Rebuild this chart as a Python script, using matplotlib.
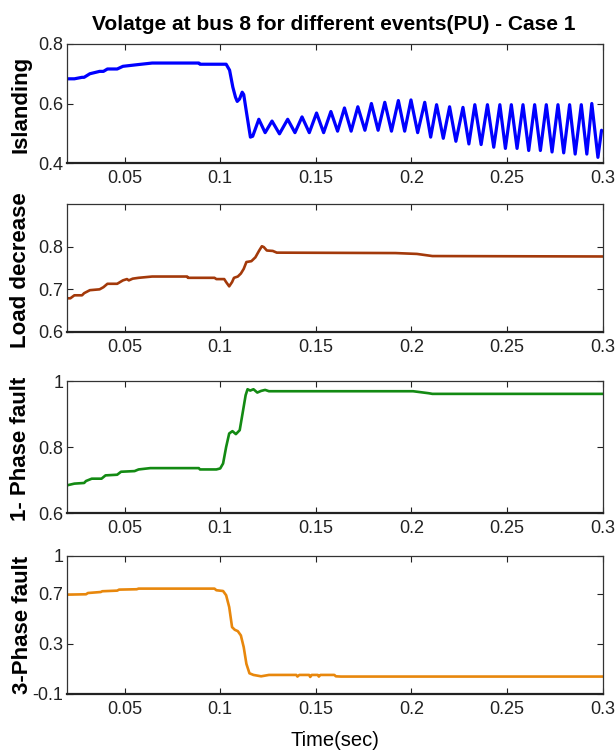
import matplotlib.pyplot as plt

plt.rcParams['font.family'] = ['Liberation Sans', 'DejaVu Sans']

# ---- data ----
# Islanding: stepwise rise, drop after the event, then growing oscillation
isl_t = [0.020, 0.0237, 0.0277, 0.0288, 0.0318, 0.0369, 0.0389, 0.0410, 0.0461, 0.0491,
         0.0573, 0.0644, 0.0888, 0.0894, 0.1031, 0.1049, 0.1066, 0.1080, 0.1089, 0.1101,
         0.1115, 0.1123, 0.1136, 0.1150, 0.1158, 0.1170]
isl_v = [0.683, 0.683, 0.688, 0.688, 0.700, 0.708, 0.708, 0.716, 0.716, 0.725,
         0.731, 0.736, 0.736, 0.732, 0.732, 0.712, 0.655, 0.621, 0.607, 0.615,
         0.638, 0.630, 0.576, 0.519, 0.487, 0.490]
osc_t = [0.1202, 0.1235, 0.1271, 0.1310, 0.1353, 0.1391, 0.1428, 0.1466, 0.1504, 0.1541,
         0.1579, 0.1614, 0.1650, 0.1685, 0.1720, 0.1757, 0.1791, 0.1826, 0.1861, 0.1896,
         0.1932, 0.1965, 0.1998, 0.2033, 0.2070, 0.2101, 0.2132, 0.2167, 0.2200, 0.2233,
         0.2270, 0.2301, 0.2332, 0.2365, 0.2398, 0.2431, 0.2463, 0.2492, 0.2523, 0.2553,
         0.2584, 0.2614, 0.2645, 0.2675, 0.2706, 0.2736, 0.2767, 0.2797, 0.2828, 0.2857,
         0.2889, 0.2918, 0.2944, 0.2976, 0.2995]
osc_v = [0.547, 0.502, 0.541, 0.498, 0.547, 0.502, 0.555, 0.502, 0.568, 0.502,
         0.573, 0.507, 0.585, 0.507, 0.589, 0.510, 0.600, 0.510, 0.604, 0.507,
         0.610, 0.507, 0.612, 0.502, 0.604, 0.487, 0.596, 0.483, 0.589, 0.473,
         0.587, 0.464, 0.596, 0.462, 0.596, 0.453, 0.596, 0.449, 0.596, 0.449,
         0.596, 0.442, 0.596, 0.442, 0.596, 0.437, 0.596, 0.434, 0.596, 0.430,
         0.596, 0.430, 0.600, 0.419, 0.510]

# Load decrease
load_t = [0.020, 0.0216, 0.0237, 0.0277, 0.0288, 0.0318, 0.0369, 0.0389, 0.0410, 0.0461,
          0.0491, 0.0512, 0.0522, 0.0542, 0.0573, 0.0644, 0.0827, 0.0831, 0.0970, 0.0980,
          0.1021, 0.1031, 0.1047, 0.1062, 0.1072, 0.1092, 0.1108, 0.1123, 0.1137, 0.1163,
          0.1184, 0.1204, 0.1218, 0.1228, 0.1244, 0.1275, 0.1296, 0.1917, 0.2029, 0.2110,
          0.300]
load_v = [0.679, 0.679, 0.686, 0.686, 0.691, 0.698, 0.700, 0.705, 0.713, 0.713,
          0.721, 0.724, 0.721, 0.725, 0.727, 0.730, 0.730, 0.727, 0.727, 0.724,
          0.724, 0.717, 0.707, 0.717, 0.727, 0.730, 0.737, 0.748, 0.764, 0.766,
          0.775, 0.791, 0.801, 0.799, 0.791, 0.790, 0.786, 0.785, 0.783, 0.778,
          0.777]

# 1-phase fault
ph1_t = [0.020, 0.0237, 0.0288, 0.0298, 0.0328, 0.0379, 0.0400, 0.0461, 0.0481, 0.0552,
         0.0573, 0.0634, 0.0888, 0.0894, 0.0980, 0.1000, 0.1015, 0.1031, 0.1047, 0.1064,
         0.1082, 0.1102, 0.1117, 0.1133, 0.1143, 0.1157, 0.1174, 0.1194, 0.1214, 0.1235,
         0.1255, 0.2009, 0.2090, 0.2110, 0.300]
ph1_v = [0.684, 0.689, 0.691, 0.697, 0.704, 0.704, 0.714, 0.716, 0.725, 0.727,
         0.732, 0.736, 0.736, 0.732, 0.732, 0.735, 0.750, 0.800, 0.841, 0.848,
         0.839, 0.851, 0.902, 0.957, 0.975, 0.971, 0.975, 0.965, 0.970, 0.973,
         0.969, 0.969, 0.963, 0.961, 0.961]

# 3-phase fault
ph3_t = [0.020, 0.0298, 0.0308, 0.0375, 0.0383, 0.0461, 0.0471, 0.0563, 0.0573, 0.0970,
         0.0980, 0.1015, 0.1031, 0.1047, 0.1062, 0.1076, 0.1092, 0.1108, 0.1123, 0.1137,
         0.1153, 0.1174, 0.1214, 0.1255, 0.1398, 0.1404, 0.1414, 0.1465, 0.1471, 0.1479,
         0.1510, 0.1516, 0.1524, 0.1597, 0.1605, 0.1632, 0.300]
ph3_v = [0.692, 0.695, 0.705, 0.713, 0.719, 0.724, 0.732, 0.735, 0.740, 0.740,
         0.727, 0.721, 0.687, 0.593, 0.433, 0.412, 0.401, 0.367, 0.273, 0.140,
         0.065, 0.052, 0.041, 0.052, 0.052, 0.039, 0.052, 0.052, 0.036, 0.052,
         0.052, 0.039, 0.052, 0.052, 0.041, 0.039, 0.039]

x_ticks = [0.05, 0.1, 0.15, 0.2, 0.25, 0.3]
x_tick_labels = ['0.05', '0.1', '0.15', '0.2', '0.25', '0.3']

fig = plt.figure(figsize=(6.15, 7.54), dpi=100)
W, H = 615.0, 754.0

def make_axes(top, bottom):
    return fig.add_axes([67.3 / W, 1 - bottom / H, (602.5 - 67.3) / W, (bottom - top) / H])

ax1 = make_axes(44, 163)
ax2 = make_axes(204, 332)
ax3 = make_axes(381, 513)
ax4 = make_axes(556, 694)

ax1.plot(isl_t + osc_t, isl_v + osc_v, color='#0000ff', lw=2.3,
         solid_joinstyle='round', solid_capstyle='round')
ax2.plot(load_t, load_v, color='#a3390a', lw=1.9, solid_joinstyle='round')
ax3.plot(ph1_t, ph1_v, color='#138a13', lw=1.9, solid_joinstyle='round')
ax4.plot(ph3_t, ph3_v, color='#e8870c', lw=1.9, solid_joinstyle='round')

ax1.set_ylim(0.4, 0.8)
ax1.set_yticks([0.4, 0.6, 0.8])
ax1.set_yticklabels(['0.4', '0.6', '0.8'])
ax2.set_ylim(0.6, 0.9)
ax2.set_yticks([0.6, 0.7, 0.8])
ax2.set_yticklabels(['0.6', '0.7', '0.8'])
ax3.set_ylim(0.6, 1.0)
ax3.set_yticks([0.6, 0.8, 1.0])
ax3.set_yticklabels(['0.6', '0.8', '1'])
ax4.set_ylim(-0.1, 1.0)
ax4.set_yticks([-0.1, 0.3, 0.7, 1.0])
ax4.set_yticklabels(['-0.1', '0.3', '0.7', '1'])

for ax in (ax1, ax2, ax3, ax4):
    ax.set_xlim(0.02, 0.3)
    ax.set_xticks(x_ticks)
    ax.set_xticklabels(x_tick_labels)
    ax.tick_params(direction='in', top=True, right=True, length=4, width=0.8,
                   labelsize=13, colors='#222222', pad=5)
    ax.tick_params(axis='y', pad=3)
    for s in ('left', 'right', 'top'):
        ax.spines[s].set_linewidth(0.9)
        ax.spines[s].set_color('#333333')
    ax.spines['bottom'].set_linewidth(1.6)
    ax.spines['bottom'].set_color('#222222')

# y labels (bold, rotated) and titles
fig.text(21 / W, 1 - 104 / H, 'Islanding', rotation=90, ha='center', va='center',
         fontsize=16, fontweight='bold')
fig.text(21 / W, 1 - 270 / H, 'Load decrease', rotation=90, ha='center', va='center',
         fontsize=16, fontweight='bold')
fig.text(20 / W, 1 - 449 / H, '1- Phase fault', rotation=90, ha='center', va='center',
         fontsize=16, fontweight='bold')
fig.text(23 / W, 1 - 625 / H, '3-Phase fault', rotation=90, ha='center', va='center',
         fontsize=16, fontweight='bold')

fig.text(334 / W, 1 - 24 / H, 'Volatge at bus 8 for different events(PU) - Case 1',
         ha='center', va='center', fontsize=15, fontweight='bold')
fig.text(335 / W, 1 - 740 / H, 'Time(sec)', ha='center', va='center', fontsize=14.5)

fig.savefig('out.png', dpi=100)
